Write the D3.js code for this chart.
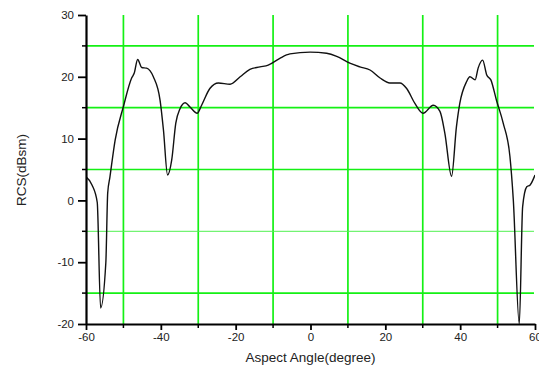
<!DOCTYPE html>
<html lang="en">
<head>
<meta charset="utf-8">
<script src="https://d3js.org/d3.v7.min.js"></script>
<style>
  body { margin: 0; background: #fff; }
  svg text { font-family: "Liberation Sans", Arial, sans-serif; fill: #222; }
  .grid line { stroke: #14f014; stroke-width: 1.7px; }
  .grid line.thin { stroke-width: 1px; stroke: #50f050; }
  .axis path, .axis line { stroke: #000; }
</style>
</head>
<body>
<svg width="539" height="368"></svg>
<script>
// aspect angle (degree) and RCS (dBsm)
var angles = [-60, -58.4, -57, -56.1, -54.7, -54.2, -53.6, -52.2, -50, -47.8, -47.1, -46.2, -45.1, -43.8, -42, -40.2, -39.3, -38.2, -37.1, -36, -34.9, -33.5, -32.2, -30.3, -29.1, -26.9, -24.6, -21.5, -18.8, -16.2, -13.5, -11.3, -8.2, -5.5, -0.1, 4.3, 7, 10.5, 13.2, 15.9, 18.6, 21.2, 23.9, 25.7, 27.9, 30.1, 32.8, 34.6, 35.9, 37.7, 39, 39.9, 41.7, 42.6, 44, 44.8, 46, 47.1, 48.2, 49.7, 51.5, 53.3, 54.2, 55.8, 56.7, 57.8, 58.7, 60];
var rcs = [3.8, 2.5, -0.3, -17.4, -10.1, 1.2, 3.8, 9.8, 15.2, 19.8, 20.6, 22.8, 21.5, 21.4, 20, 16.2, 11.4, 4.1, 6.5, 12.5, 14.8, 15.8, 15.1, 14.1, 15.4, 18.1, 19, 18.8, 20, 21.2, 21.6, 21.9, 23, 23.7, 24, 23.8, 23.3, 22.2, 21.6, 21.1, 19.8, 19, 19, 18.1, 15.7, 14.1, 15.4, 14.4, 10.9, 3.9, 11.9, 15.7, 19.2, 20, 19.5, 21.4, 22.7, 20.3, 19.5, 16.2, 12.5, 7.1, 0.1, -20, -1, 2.2, 2.5, 4.1];

var xTicks = [-60, -40, -20, 0, 20, 40, 60];
var xMinor = [-50, -30, -10, 10, 30, 50];
var yTicks = [-20, -10, 0, 10, 20, 30];
var yMinor = [-15, -5, 5, 15, 25];

var svg = d3.select("svg");
var x = d3.scaleLinear().domain([-60, 60]).range([86, 535]);
var y = d3.scaleLinear().domain([-20, 30]).range([324, 15]);

// green grid at the minor ticks
var grid = svg.append("g").attr("class", "grid");
grid.selectAll("line.v").data(xMinor).enter().append("line")
  .attr("class", "v")
  .attr("x1", d => x(d)).attr("x2", d => x(d))
  .attr("y1", y(30)).attr("y2", y(-20));
grid.selectAll("line.h").data(yMinor).enter().append("line")
  .attr("class", d => d === -5 ? "h thin" : "h")
  .attr("x1", x(-60)).attr("x2", x(60) - 1)
  .attr("y1", d => y(d)).attr("y2", d => y(d));

svg.append("clipPath").attr("id", "clip")
  .append("rect").attr("x", x(-60)).attr("y", y(30))
  .attr("width", x(60) - x(-60)).attr("height", y(-20) - y(30));

var line = d3.line()
  .x((d, i) => x(angles[i]))
  .y(d => y(d))
  .curve(d3.curveMonotoneX);

svg.append("path")
  .datum(rcs)
  .attr("clip-path", "url(#clip)")
  .attr("d", line)
  .attr("fill", "none")
  .attr("stroke", "#111")
  .attr("stroke-width", 1.4);

var fmt = d => String(d); // plain hyphen like the original

// axes
var yAxis = svg.append("g").attr("class", "axis")
  .attr("transform", "translate(" + x(-60) + ",0)")
  .call(d3.axisLeft(y).tickValues(yTicks).tickFormat(fmt).tickSize(8).tickPadding(4).tickSizeOuter(0));
yAxis.append("g").selectAll("line").data(yMinor).enter().append("line")
  .attr("x1", -4).attr("x2", 0).attr("y1", d => y(d)).attr("y2", d => y(d))
  .attr("stroke", "#000").attr("stroke-width", 1.5);

var xAxis = svg.append("g").attr("class", "axis")
  .attr("transform", "translate(0," + y(-20) + ")")
  .call(d3.axisBottom(x).tickValues(xTicks).tickFormat(fmt).tickSize(6).tickPadding(3).tickSizeOuter(0));
xAxis.append("g").selectAll("line").data(xMinor).enter().append("line")
  .attr("x1", d => x(d)).attr("x2", d => x(d)).attr("y1", 0).attr("y2", 4)
  .attr("stroke", "#000").attr("stroke-width", 1.5);

svg.selectAll(".axis path.domain").attr("stroke-width", 2.2);
svg.selectAll(".axis .tick line").attr("stroke-width", 1.8);
svg.selectAll(".axis text").attr("font-size", "11.5px").attr("fill", "#222");

svg.append("text")
  .attr("x", x(0)).attr("y", 362)
  .attr("text-anchor", "middle")
  .attr("font-size", "13.5px")
  .text("Aspect Angle(degree)");

svg.append("text")
  .attr("transform", "translate(26,170) rotate(-90)")
  .attr("text-anchor", "middle")
  .attr("font-size", "13.5px")
  .text("RCS(dBsm)");
</script>
</body>
</html>
